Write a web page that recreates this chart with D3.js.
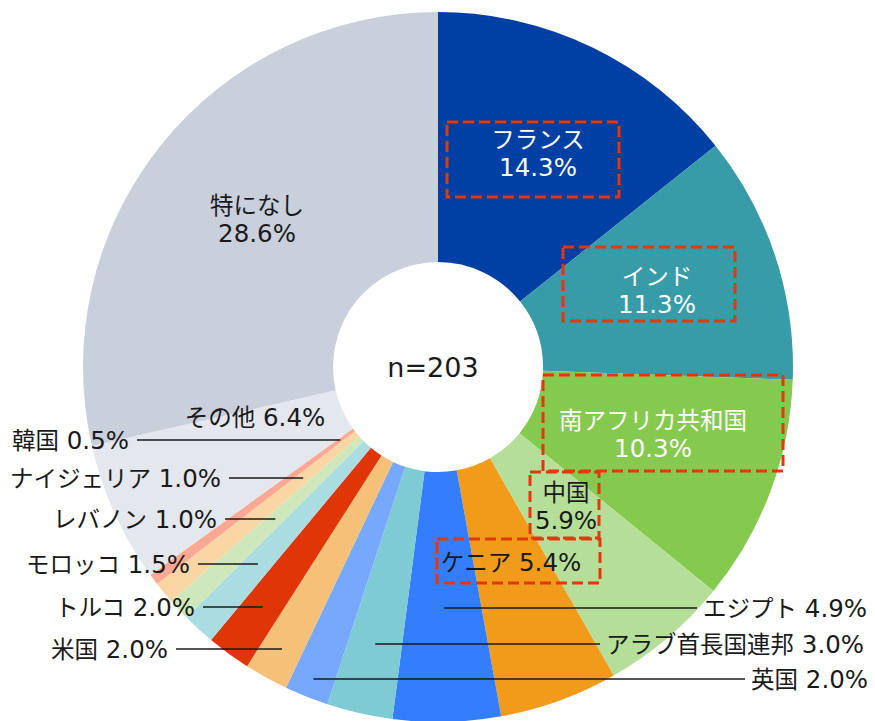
<!DOCTYPE html>
<html>
<head>
<meta charset="utf-8">
<script src="https://cdn.jsdelivr.net/npm/d3@7"></script>
<style>
  body { margin: 0; background: #fff; }
  text { font-family: "DejaVu Sans", "Noto Sans CJK JP", sans-serif; }
</style>
</head>
<body>
<div id="chart"></div>
<script>
// categories in clockwise order starting at 12 o'clock
let names = ["フランス", "インド", "南アフリカ共和国", "中国", "ケニア", "エジプト",
    "アラブ首長国連邦", "英国", "米国", "トルコ", "モロッコ", "レバノン",
    "ナイジェリア", "韓国", "その他", "特になし"];
let shares = [14.3, 11.3, 10.3, 5.9, 5.4, 4.9, 3.0, 2.0, 2.0, 2.0, 1.5, 1.0, 1.0, 0.5, 6.4, 28.6];
let colors = ["#003fa3", "#379ca8", "#86c94f", "#b5df98", "#f29b1b", "#337dff",
    "#7ecbd3", "#76a8fd", "#f5c178", "#e03507", "#aadce2", "#cfe8bb",
    "#fbd6a5", "#fca993", "#e4e7ed", "#c9cfdb"];
let sampleLabel = "n=203";
// which categories get a dashed highlight box
let highlighted = ["フランス", "インド", "南アフリカ共和国", "中国", "ケニア"];

let width = 875, height = 721;
let cx = 438, cy = 367, outerR = 355, innerR = 105;

let svg = d3.select("#chart")
    .append("svg")
    .attr("width", width)
    .attr("height", height);

let g = svg.append("g")
    .attr("transform", "translate(" + cx + "," + cy + ")");

let data = names.map(function(n, i) { return {name: n, value: shares[i], color: colors[i]}; });

let pie = d3.pie()
    .value(function(d) { return d.value; })
    .sort(null);

let arc = d3.arc()
    .innerRadius(innerR)
    .outerRadius(outerR);

let arcs = pie(data);

// slices
g.selectAll("path.slice")
    .data(arcs)
    .enter()
    .append("path")
    .attr("class", "slice")
    .attr("d", arc)
    .attr("fill", function(d) { return d.data.color; });

let fmt = function(v) { return v.toFixed(1) + "%"; };
let cjkSize = 23.5, latinSize = 24.5;

// split a string into CJK / latin runs so each gets its own size
function addRuns(parent, str) {
    let re = /[\u3000-\u9fff\uff00-\uffef]+|[^\u3000-\u9fff\uff00-\uffef]+/g;
    let m;
    while ((m = re.exec(str)) !== null) {
        let isCjk = /[\u3000-\u9fff\uff00-\uffef]/.test(m[0]);
        parent.append("tspan")
            .style("font-size", (isCjk ? cjkSize : latinSize) + "px")
            .text(m[0]);
    }
}

// labels placed inside the ring (two lines) - placement only
let inside = {
    "フランス": {x: 538, y: 153, color: "#fff", box: [447, 122, 619, 197]},
    "インド": {x: 657, y: 290, color: "#fff", box: [563, 247, 735, 321]},
    "南アフリカ共和国": {x: 653, y: 434, color: "#fff", box: [543, 375, 783, 471]},
    "中国": {x: 566, y: 506, color: "#1a1a1a", box: [530, 472, 599, 538]},
    "特になし": {x: 257, y: 219, color: "#1a1a1a"}
};
// single line labels inside
let oneLine = {
    "ケニア": {x: 511, y: 562, box: [437, 539, 600, 583]},
    "その他": {x: 255, y: 417}
};
// external labels with leader lines
let outside = {
    "エジプト": {y: 608, lineEnd: 697, side: "right"},
    "アラブ首長国連邦": {y: 644, lineEnd: 600, side: "right"},
    "英国": {y: 679, lineEnd: 745, side: "right"},
    "韓国": {y: 440, lineEnd: 137, side: "left"},
    "ナイジェリア": {y: 478, lineEnd: 229, side: "left"},
    "レバノン": {y: 519, lineEnd: 225, side: "left"},
    "モロッコ": {y: 564, lineEnd: 198, side: "left"},
    "トルコ": {y: 607, lineEnd: 203, side: "left"},
    "米国": {y: 649, lineEnd: 176, side: "left"}
};

let labels = svg.append("g");

arcs.forEach(function(a) {
    let name = a.data.name;
    if (inside[name]) {
        let p = inside[name];
        let t = labels.append("text")
            .attr("x", p.x)
            .attr("y", p.y)
            .attr("text-anchor", "middle")
            .attr("fill", p.color);
        let l1 = t.append("tspan").attr("x", p.x).attr("y", p.y - 5);
        addRuns(l1, name);
        let l2 = t.append("tspan").attr("x", p.x).attr("y", p.y + 23);
        addRuns(l2, fmt(a.data.value));
    } else if (oneLine[name]) {
        let p = oneLine[name];
        let t = labels.append("text")
            .attr("x", p.x)
            .attr("y", p.y + 8.5)
            .attr("text-anchor", "middle")
            .attr("fill", "#1a1a1a");
        addRuns(t, name + " " + fmt(a.data.value));
    } else if (outside[name]) {
        let p = outside[name];
        // leader starts where the slice's middle angle crosses the label row
        let mid = (a.startAngle + a.endAngle) / 2;
        let x0 = cx - (p.y - cy) * Math.tan(mid);
        labels.append("line")
            .attr("x1", x0)
            .attr("y1", p.y)
            .attr("x2", p.lineEnd)
            .attr("y2", p.y)
            .attr("stroke", "#1a1a1a")
            .attr("stroke-width", 1.3);
        let t = labels.append("text")
            .attr("x", p.side === "right" ? p.lineEnd + 6 : p.lineEnd - 8)
            .attr("y", p.y + 8.5)
            .attr("text-anchor", p.side === "right" ? "start" : "end")
            .attr("fill", "#1a1a1a");
        addRuns(t, name + " " + fmt(a.data.value));
    }
});

// dashed highlight boxes
let boxes = svg.append("g");
highlighted.forEach(function(name) {
    let b = (inside[name] || oneLine[name]).box;
    boxes.append("rect")
        .attr("x", b[0])
        .attr("y", b[1])
        .attr("width", b[2] - b[0])
        .attr("height", b[3] - b[1])
        .attr("fill", "none")
        .attr("stroke", "#e2380b")
        .attr("stroke-width", 3)
        .attr("stroke-dasharray", "11,5");
});

// center label
svg.append("text")
    .attr("x", cx - 5)
    .attr("y", cy + 10)
    .attr("text-anchor", "middle")
    .attr("fill", "#1a1a1a")
    .style("font-size", "27px")
    .text(sampleLabel);
</script>
</body>
</html>
